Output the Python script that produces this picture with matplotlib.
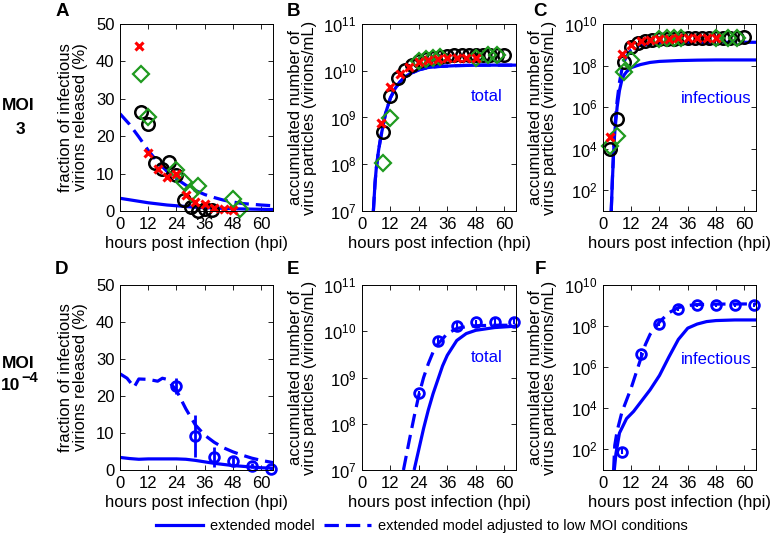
import numpy as np
import matplotlib
matplotlib.use("Agg")
import matplotlib.pyplot as plt
from matplotlib.lines import Line2D

plt.rcParams['font.family'] = ['Liberation Sans Narrow', 'Liberation Sans', 'DejaVu Sans']
plt.rcParams['mathtext.default'] = 'regular'

W, H = 770, 542
BLUE = '#0000ff'
RED = '#ff0000'
GREEN = '#1f9a1f'

# ---- panel A : fraction of infectious virions, MOI 3 ----
a_t_black = [9, 12, 15, 18, 21, 24, 27, 30, 33, 36, 39]
a_black = [26.5, 23.2, 12.8, 11.3, 13.0, 9.5, 2.9, 1.0, 0.0, 0.5, 0.3]
a_t_red = [8, 12, 16, 20, 24, 28, 32, 36, 40, 44, 48]
a_red = [44.2, 15.5, 11.3, 9.2, 10.0, 4.4, 2.3, 1.8, 0.8, 0.5, 0.4]
a_t_green = [9, 12, 24, 27, 30, 33, 48, 51]
a_green = [36.5, 25.2, 11.0, 7.7, 4.7, 6.8, 3.2, 0.5]
a_t_model = [0, 4, 8, 12, 16, 20, 24, 28, 32, 36, 40, 44, 48, 52, 56, 60, 65]
a_ext = [3.4, 3.0, 2.6, 2.2, 1.9, 1.6, 1.4, 1.2, 1.0, 0.9, 0.8, 0.7, 0.6, 0.55, 0.5, 0.45, 0.4]
a_adj = [26.0, 23.2, 19.8, 16.2, 13.1, 10.6, 8.6, 6.9, 5.5, 4.4, 3.6, 2.9, 2.4, 2.0, 1.8, 1.6, 1.4]

# ---- panel B : total virions, MOI 3 (log10 values) ----
b_t_black = [9, 12, 15, 18, 21, 24, 27, 30, 33, 36, 39, 42, 45, 48, 51, 54, 57, 60]
b_black = [8.7, 9.45, 9.84, 10.02, 10.13, 10.2, 10.25, 10.28, 10.3, 10.32, 10.33, 10.33,
           10.33, 10.33, 10.33, 10.34, 10.34, 10.34]
b_t_red = [8, 12, 16, 20, 24, 28, 32, 36, 40, 44, 48]
b_red = [8.88, 9.65, 9.93, 10.09, 10.18, 10.22, 10.25, 10.27, 10.27, 10.28, 10.28]
b_t_green = [9, 12, 24, 27, 30, 33, 48, 53, 57]
b_green = [8.02, 8.98, 10.2, 10.25, 10.28, 10.3, 10.27, 10.33, 10.33]
b_t_model = [4.8, 5.5, 6, 7, 8, 9, 10, 12, 14, 16, 18, 20, 24, 28, 32, 40, 50, 65]
b_ext = [7.0, 7.6, 7.9, 8.3, 8.6, 8.85, 9.1, 9.42, 9.62, 9.76, 9.86, 9.93, 10.02, 10.07,
         10.09, 10.11, 10.12, 10.12]
b_adj = [7.0, 7.6, 7.9, 8.3, 8.6, 8.85, 9.1, 9.42, 9.62, 9.76, 9.86, 9.93, 10.02, 10.07,
         10.09, 10.11, 10.12, 10.12]

# ---- panel C : infectious virions, MOI 3 (log10 values) ----
c_t_black = [3, 6, 9, 12, 15, 18, 21, 24, 27, 30, 33, 36, 39, 42, 45, 48, 51, 54, 57, 60]
c_black = [4.0, 5.43, 8.15, 8.88, 9.1, 9.2, 9.25, 9.28, 9.3, 9.3, 9.32, 9.32, 9.32, 9.33,
           9.33, 9.33, 9.34, 9.35, 9.35, 9.36]
c_t_red = [3, 8, 12, 16, 20, 24, 28, 32, 36, 40, 44, 48]
c_red = [4.55, 8.55, 9.0, 9.2, 9.25, 9.3, 9.3, 9.32, 9.32, 9.32, 9.33, 9.33]
c_t_green = [3, 6, 9, 12, 24, 27, 30, 33, 48, 53, 57]
c_green = [4.15, 4.6, 7.7, 8.27, 9.3, 9.32, 9.32, 9.32, 9.32, 9.33, 9.33]
c_t_model = [3.5, 4, 4.5, 5, 6, 7, 8, 9, 10, 12, 14, 16, 20, 24, 32, 40, 48, 65]
c_ext = [1.0, 2.5, 3.8, 4.8, 6.0, 6.8, 7.3, 7.55, 7.7, 7.9, 7.98, 8.05, 8.15, 8.2, 8.24,
         8.26, 8.27, 8.27]
c_adj = [1.0, 2.6, 3.9, 5.0, 6.3, 7.2, 7.8, 8.2, 8.45, 8.75, 8.9, 8.98, 9.05, 9.08, 9.1,
         9.11, 9.12, 9.12]

# ---- panel D : fraction of infectious virions, MOI 1e-4 ----
d_t = [24, 32, 40, 48, 56, 64]
d_val = [22.7, 9.2, 3.6, 2.5, 1.2, 0.3]
d_err = [2.2, 5.6, 2.7, 1.0, 0.6, 0.4]
d_t_adj = [0, 3, 6, 8, 12, 16, 18, 20, 24, 28, 32, 36, 40, 44, 48, 52, 56, 60, 65]
d_adj = [26.0, 24.8, 22.4, 24.6, 24.5, 24.0, 24.8, 24.5, 21.5, 16.5, 12.2, 9.4, 7.5, 6.0,
         4.9, 4.0, 3.2, 2.6, 2.0]
d_t_ext = [0, 4, 8, 12, 16, 20, 24, 28, 32, 36, 40, 44, 48, 52, 56, 60, 65]
d_ext = [3.4, 3.1, 2.9, 3.0, 3.0, 3.0, 3.0, 2.9, 2.6, 2.2, 1.8, 1.5, 1.2, 1.0, 0.8, 0.6, 0.5]

# ---- panel E : total virions, MOI 1e-4 (log10 values) ----
e_t = [24, 32, 40, 48, 56, 64]
e_val = [8.66, 9.78, 10.12, 10.19, 10.21, 10.21]
e_err = [0.05, 0.08, 0.08, 0.06, 0.05, 0.05]
e_t_adj = [17.5, 20, 22, 24, 26, 28, 30, 32, 36, 40, 44, 48, 56, 65]
e_adj = [7.0, 7.65, 8.15, 8.62, 9.0, 9.3, 9.55, 9.72, 9.95, 10.06, 10.1, 10.12, 10.13, 10.13]
e_t_ext = [22, 24, 26, 28, 30, 32, 34, 36, 40, 44, 48, 56, 65]
e_ext = [7.0, 7.45, 7.9, 8.3, 8.65, 8.95, 9.25, 9.48, 9.8, 9.95, 10.02, 10.08, 10.11]

# ---- panel F : infectious virions, MOI 1e-4 (log10 values) ----
f_t = [8, 16, 24, 32, 40, 48, 56, 64]
f_val = [1.9, 6.65, 8.09, 8.82, 9.03, 9.03, 9.03, 9.03]
f_err = [0.1, 0.1, 0.1, 0.1, 0.1, 0.1, 0.1, 0.1]
f_t_adj = [4.5, 5, 6, 8, 10, 12, 14, 16, 18, 20, 24, 28, 32, 36, 40, 48, 65]
f_adj = [1.0, 2.2, 2.9, 3.8, 4.4, 5.0, 5.7, 6.4, 7.1, 7.6, 8.2, 8.65, 8.9, 9.0, 9.05, 9.07, 9.08]
f_t_ext = [4.8, 5.5, 7, 10, 13, 16, 20, 24, 28, 32, 36, 40, 44, 48, 56, 65]
f_ext = [1.0, 1.8, 2.8, 3.5, 3.85, 4.3, 4.9, 5.6, 6.5, 7.35, 7.9, 8.1, 8.22, 8.27, 8.3, 8.3]

xticks = [0, 12, 24, 36, 48, 60]
FS = 12
LW = 2.3
DASH = (4.5, 2.2)
BOLD_FONT = ['Liberation Sans', 'DejaVu Sans']


def pw(v):
    return 10 ** np.asarray(v, dtype=float)


def fig_xy(x, y):
    return x / W, 1 - y / H


def make_axes(fig, x0, y0, x1, y1):
    return fig.add_axes([x0 / W, 1 - y1 / H, (x1 - x0) / W, (y1 - y0) / H])


def style(ax, ylabel, label_x):
    ax.set_xlim(0, 65)
    ax.set_xticks(xticks)
    ax.tick_params(direction='in', top=True, right=True, length=3.5, width=0.6,
                   labelsize=FS, pad=4)
    ax.tick_params(which='minor', length=0)
    for s in ax.spines.values():
        s.set_linewidth(0.7)
    ax.set_xlabel('hours post infection (hpi)', fontsize=FS, labelpad=3)
    ax.set_ylabel(ylabel, fontsize=FS, linespacing=0.95)
    ax.yaxis.set_label_coords(label_x, 0.5)


def models(ax, t_ext, ext, t_adj, adj, log=False):
    f = pw if log else np.asarray
    ax.plot(t_ext, f(ext), color=BLUE, lw=LW, solid_capstyle='butt')
    ax.plot(t_adj, f(adj), color=BLUE, lw=LW, ls=(0, DASH))


def markers(ax, t_k, v_k, t_r, v_r, t_g, v_g, log=False):
    f = pw if log else np.asarray
    ax.plot(t_k, f(v_k), 'o', mfc='none', mec='black', ms=9, mew=1.8, clip_on=False)
    ax.plot(t_g, f(v_g), 'D', mfc='none', mec=GREEN, ms=8, mew=1.6, clip_on=False)
    ax.plot(t_r, f(v_r), 'x', color=RED, ms=6, mew=2.2, clip_on=False)


fig = plt.figure(figsize=(W / 100, H / 100), dpi=100)

frac_label = 'fraction of infectious\nvirions released (%)'
acc_label = 'accumulated number of\nvirus particles (virions/mL)'

# top row
axA = make_axes(fig, 120, 24, 273, 211)
models(axA, a_t_model, a_ext, a_t_model, a_adj)
markers(axA, a_t_black, a_black, a_t_red, a_red, a_t_green, a_green)
axA.set_ylim(0, 50)
axA.set_yticks([0, 10, 20, 30, 40, 50])
style(axA, frac_label, -0.21)

axB = make_axes(fig, 362, 24, 516, 211)
axB.set_yscale('log')
models(axB, b_t_model, b_ext, b_t_model, b_adj, log=True)
markers(axB, b_t_black, b_black, b_t_red, b_red, b_t_green, b_green, log=True)
axB.set_ylim(1e7, 1e11)
axB.set_yticks([1e7, 1e8, 1e9, 1e10, 1e11])
style(axB, acc_label, -0.29)
axB.text(0.81, 0.61, 'total', color=BLUE, fontsize=FS, ha='center', va='center',
         transform=axB.transAxes)

axC = make_axes(fig, 603, 24, 756, 211)
axC.set_yscale('log')
models(axC, c_t_model, c_ext, c_t_model, c_adj, log=True)
markers(axC, c_t_black, c_black, c_t_red, c_red, c_t_green, c_green, log=True)
axC.set_ylim(1e1, 1e10)
axC.set_yticks([1e2, 1e4, 1e6, 1e8, 1e10])
style(axC, acc_label, -0.30)
axC.text(0.74, 0.60, 'infectious', color=BLUE, fontsize=FS, ha='center', va='center',
         transform=axC.transAxes)

# bottom row
axD = make_axes(fig, 120, 285, 273, 470)
models(axD, d_t_ext, d_ext, d_t_adj, d_adj)
axD.errorbar(d_t, d_val, yerr=d_err, fmt='o', mfc='none', mec=BLUE, ecolor=BLUE,
             ms=7, mew=2, elinewidth=2, capsize=0, clip_on=False)
axD.set_ylim(0, 50)
axD.set_yticks([0, 10, 20, 30, 40, 50])
style(axD, frac_label, -0.21)

axE = make_axes(fig, 362, 285, 516, 470)
axE.set_yscale('log')
models(axE, e_t_ext, e_ext, e_t_adj, e_adj, log=True)
e_lo = pw(e_val) - pw(np.subtract(e_val, e_err))
e_hi = pw(np.add(e_val, e_err)) - pw(e_val)
axE.errorbar(e_t, pw(e_val), yerr=[e_lo, e_hi], fmt='o', mfc='none', mec=BLUE,
             ecolor=BLUE, ms=7, mew=2, elinewidth=1.5, capsize=0, clip_on=False)
axE.set_ylim(1e7, 1e11)
axE.set_yticks([1e7, 1e8, 1e9, 1e10, 1e11])
style(axE, acc_label, -0.29)
axE.text(0.81, 0.61, 'total', color=BLUE, fontsize=FS, ha='center', va='center',
         transform=axE.transAxes)

axF = make_axes(fig, 603, 285, 756, 470)
axF.set_yscale('log')
models(axF, f_t_ext, f_ext, f_t_adj, f_adj, log=True)
f_lo = pw(f_val) - pw(np.subtract(f_val, f_err))
f_hi = pw(np.add(f_val, f_err)) - pw(f_val)
axF.errorbar(f_t, pw(f_val), yerr=[f_lo, f_hi], fmt='o', mfc='none', mec=BLUE,
             ecolor=BLUE, ms=7, mew=2, elinewidth=1.5, capsize=0, clip_on=False)
axF.set_ylim(1e1, 1e10)
axF.set_yticks([1e2, 1e4, 1e6, 1e8, 1e10])
style(axF, acc_label, -0.30)
axF.text(0.74, 0.60, 'infectious', color=BLUE, fontsize=FS, ha='center', va='center',
         transform=axF.transAxes)

# panel letters
for letter, (px, py) in zip('ABCDEF', [(62, 12), (293, 12), (540, 12),
                                       (62, 270), (293, 270), (540, 270)]):
    fig.text(*fig_xy(px, py), letter, fontsize=13.5, fontweight='bold',
             family=BOLD_FONT, ha='center', va='center')

# row labels
row_kw = dict(fontsize=12.5, fontweight='bold', family=BOLD_FONT, ha='center', va='center')
fig.text(*fig_xy(18, 106), 'MOI', **row_kw)
fig.text(*fig_xy(20, 129), '3', **row_kw)
fig.text(*fig_xy(18, 364), 'MOI', **row_kw)
fig.text(*fig_xy(11, 386), '10', **row_kw)
fig.text(*fig_xy(21, 378), '\u22124', fontsize=10.5, fontweight='bold', family=BOLD_FONT,
         ha='left', va='center')

# legend
handles = [Line2D([], [], color=BLUE, lw=LW),
           Line2D([], [], color=BLUE, lw=LW, ls=(0, DASH))]
fig.legend(handles, ['extended model', 'extended model adjusted to low MOI conditions'],
           loc='center', bbox_to_anchor=fig_xy(422, 526), ncol=2, frameon=False,
           fontsize=10.5, handlelength=3.2, handletextpad=0.5, columnspacing=0.6)

fig.savefig('out.png', dpi=100)
